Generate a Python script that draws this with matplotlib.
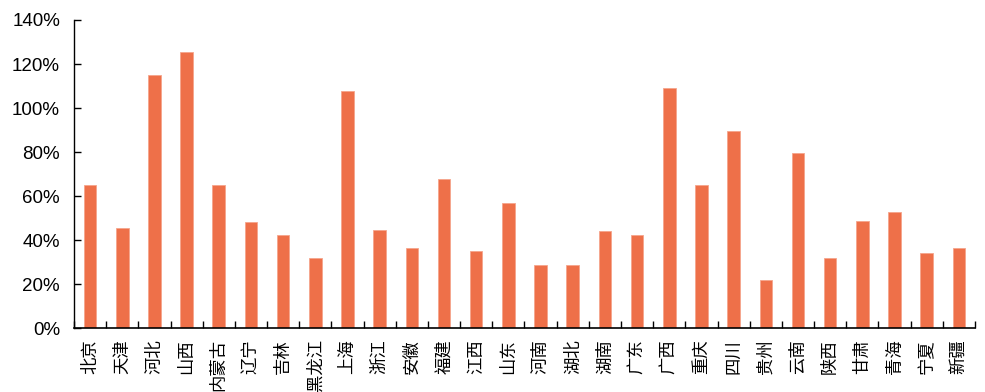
import matplotlib
matplotlib.use("Agg")
import matplotlib.pyplot as plt
import numpy as np
from matplotlib.ticker import FuncFormatter

provinces = ["北京", "天津", "河北", "山西", "内蒙古", "辽宁", "吉林", "黑龙江",
             "上海", "浙江", "安徽", "福建", "江西", "山东", "河南", "湖北",
             "湖南", "广东", "广西", "重庆", "四川", "贵州", "云南", "陕西",
             "甘肃", "青海", "宁夏", "新疆"]
values = [65.0, 45.7, 115.2, 125.6, 65.0, 48.1, 42.2, 31.8,
          107.6, 44.5, 36.3, 67.8, 35.2, 56.8, 28.7, 28.7,
          44.0, 42.2, 109.3, 64.9, 89.5, 21.8, 79.5, 31.8,
          48.6, 52.7, 34.1, 36.3]

plt.rcParams['font.family'] = ['Liberation Sans', 'DejaVu Sans']

fig = plt.figure(figsize=(9.85, 3.92), dpi=100)
ax = fig.add_axes([0.0751, 0.163, 0.9147, 0.786])

x = np.arange(len(provinces))
ax.bar(x, values, width=0.39, color="#EE7049", edgecolor="#F5A58C", linewidth=0.6)

ax.set_xlim(-0.5, len(provinces) - 0.5)
ax.set_ylim(0, 140)
ax.set_yticks(np.arange(0, 141, 20))
ax.yaxis.set_major_formatter(FuncFormatter(lambda v, p: "%d%%" % v))
ax.tick_params(axis='y', direction='in', length=5, width=1, labelsize=13.5, pad=10)

# boundary ticks between categories, labels at centers
ax.set_xticks(np.arange(-0.5, len(provinces), 1))
ax.set_xticklabels([])
ax.tick_params(axis='x', which='major', direction='in', length=5, width=1)
ax.set_xticks(x, minor=True)
ax.set_xticklabels(provinces, minor=True, rotation=90, va='top', ha='center',
                   family=['Noto Sans CJK SC', 'DejaVu Sans'], fontsize=12.5)
ax.tick_params(axis='x', which='minor', length=0, pad=8)

for s in ['top', 'right']:
    ax.spines[s].set_visible(False)
ax.spines['left'].set_linewidth(1)
ax.spines['bottom'].set_linewidth(1.2)

fig.savefig("out.png", dpi=100)
